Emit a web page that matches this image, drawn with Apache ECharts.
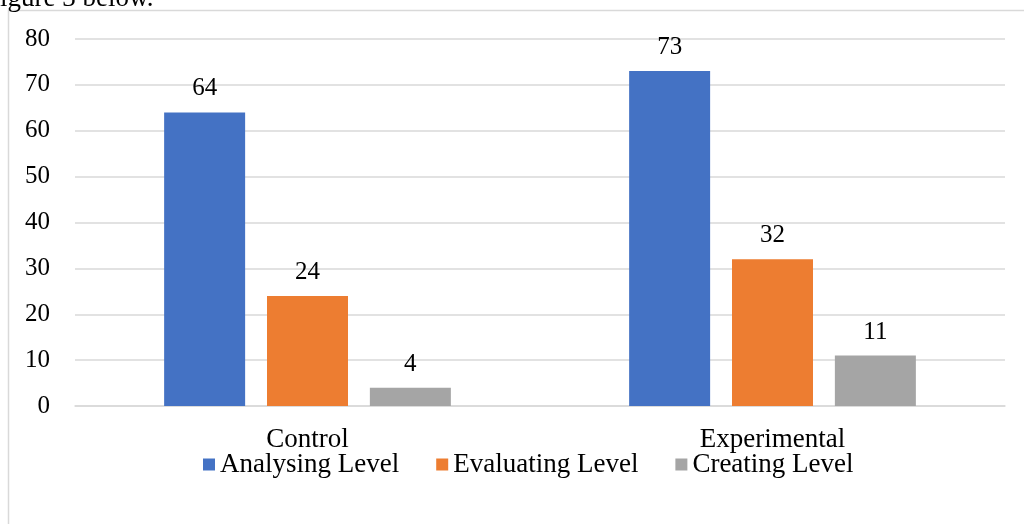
<!DOCTYPE html>
<html>
<head>
<meta charset="utf-8">
<script src="https://cdn.jsdelivr.net/npm/echarts@6/dist/echarts.min.js"></script>
<style>
  html, body { margin: 0; padding: 0; background: #fff; }
  #chart { width: 1024px; height: 524px; }
</style>
</head>
<body>
<div id="chart"></div>
<script>
// data
var groups = ['Control', 'Experimental'];
var analysing = [64, 73];
var evaluating = [24, 32];
var creating = [4, 11];
var seriesNames = ['Analysing Level', 'Evaluating Level', 'Creating Level'];
var colors = ['#4472c4', '#ed7d31', '#a5a5a5'];

var serif = '"Liberation Serif", "Times New Roman", serif';
var textColor = '#000';

function bar(name, data, color) {
  return {
    name: name,
    type: 'bar',
    data: data,
    barWidth: 81,
    barGap: '27%',
    itemStyle: { color: color },
    label: {
      show: true,
      position: 'top',
      distance: 11,
      color: textColor,
      fontFamily: serif,
      fontSize: 25
    }
  };
}

var chart = echarts.init(document.getElementById('chart'));
chart.setOption({
  animation: false,
  color: colors,
  graphic: [
    // frame of the chart area (cut off at right/bottom)
    { type: 'line', shape: { x1: 8.5, y1: 10, x2: 8.5, y2: 524 }, style: { stroke: '#d9d9d9', lineWidth: 1.5 } },
    { type: 'line', shape: { x1: 8, y1: 10.5, x2: 1024, y2: 10.5 }, style: { stroke: '#d9d9d9', lineWidth: 1.5 } },
    // caption text from the page above, mostly cut off
    { type: 'text', left: -15, top: -15, style: { text: 'Figure 3 below.', font: '27px ' + serif, fill: '#000' } }
  ],
  grid: { left: 75, right: 19, top: 39, bottom: 118 },
  legend: {
    data: seriesNames,
    top: 446,
    left: 198,
    itemWidth: 12,
    itemHeight: 12,
    itemGap: 37,
    icon: 'rect',
    textStyle: { color: textColor, fontFamily: serif, fontSize: 27 }
  },
  xAxis: {
    type: 'category',
    data: groups,
    axisLine: { lineStyle: { color: '#d9d9d9', width: 1.5 } },
    axisTick: { show: false },
    axisLabel: { color: textColor, fontFamily: serif, fontSize: 27, margin: 20 }
  },
  yAxis: {
    type: 'value',
    min: 0,
    max: 80,
    interval: 10,
    axisLine: { show: false },
    axisTick: { show: false },
    splitLine: { lineStyle: { color: '#d9d9d9', width: 1.5 } },
    axisLabel: { color: textColor, fontFamily: serif, fontSize: 25, margin: 25 }
  },
  series: [
    bar(seriesNames[0], analysing, colors[0]),
    bar(seriesNames[1], evaluating, colors[1]),
    bar(seriesNames[2], creating, colors[2])
  ]
});
</script>
</body>
</html>
